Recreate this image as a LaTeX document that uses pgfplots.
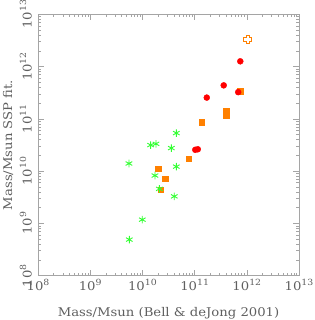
\documentclass[border=0pt]{standalone}
\usepackage{fontspec}
\setmainfont[FakeStretch=1.1]{DejaVu Serif}
\usepackage{pgfplots}
\pgfplotsset{compat=1.18}
\definecolor{sgreen}{RGB}{50,255,50}
\definecolor{sorange}{RGB}{255,128,0}
\definecolor{sred}{RGB}{255,0,0}
\definecolor{txt}{RGB}{95,95,95}
\definecolor{axc}{RGB}{165,165,165}
\pgfdeclareplotmark{hplus}{%
  \pgfmathsetlengthmacro{\pa}{\pgfplotmarksize}%
  \pgfmathsetlengthmacro{\pb}{0.4*\pgfplotmarksize}%
  \pgfpathmoveto{\pgfqpoint{-\pb}{\pa}}%
  \pgfpathlineto{\pgfqpoint{\pb}{\pa}}%
  \pgfpathlineto{\pgfqpoint{\pb}{\pb}}%
  \pgfpathlineto{\pgfqpoint{\pa}{\pb}}%
  \pgfpathlineto{\pgfqpoint{\pa}{-\pb}}%
  \pgfpathlineto{\pgfqpoint{\pb}{-\pb}}%
  \pgfpathlineto{\pgfqpoint{\pb}{-\pa}}%
  \pgfpathlineto{\pgfqpoint{-\pb}{-\pa}}%
  \pgfpathlineto{\pgfqpoint{-\pb}{-\pb}}%
  \pgfpathlineto{\pgfqpoint{-\pa}{-\pb}}%
  \pgfpathlineto{\pgfqpoint{-\pa}{\pb}}%
  \pgfpathlineto{\pgfqpoint{-\pb}{\pb}}%
  \pgfpathclose
  \pgfusepathqstroke}
\newcommand{\tl}[1]{10\raisebox{5.5pt}{\fontsize{8.5}{9}\selectfont #1}}
\begin{document}
\begin{tikzpicture}[x=1pt,y=1pt]
\path[use as bounding box] (-38,-44.3) rectangle (276,275.7);
\begin{axis}[at={(0,0)}, anchor=south west, scale only axis,
  width=261pt, height=261.4pt,
  xmode=log, ymode=log, xmin=1e8, xmax=1e13, ymin=1e8, ymax=1e13,
  xtick={1e8,1e9,1e10,1e11,1e12,1e13},
  xticklabels={\tl{8},\tl{9},\tl{10},\tl{11},\tl{12},\tl{13}},
  ytick={1e8,1e9,1e10,1e11,1e12,1e13},
  yticklabels={\tl{8},\tl{9},\tl{10},\tl{11},\tl{12},\tl{13}},
  tick align=inside, major tick length=6pt, minor tick length=3pt,
  axis line style={axc, line width=0.8pt},
  every tick/.style={axc, line width=0.6pt},
  tick label style={txt, font=\fontsize{12}{14}\selectfont},
  xticklabel style={anchor=base}, xticklabel shift=15pt,
  yticklabel style={rotate=90, anchor=base}, yticklabel shift=6.3pt,
  xlabel={Mass/Msun (Bell \& deJong 2001)},
  ylabel={Mass/Msun SSP fit.},
  every axis x label/.style={at={(axis description cs:0.5,-0.158)}, anchor=base, txt, font=\fontsize{12}{14}\selectfont},
  every axis y label/.style={at={(axis description cs:-0.0996,0.5)}, rotate=90, anchor=base, txt, font=\fontsize{12}{14}\selectfont},
  clip=false,
]
% orange squares
\addplot[only marks, mark=square*, mark size=2.7pt, color=sorange] coordinates {
 (1.99e10,1.10e10) (2.75e10,7.14e9) (2.24e10,4.40e9) (7.64e10,1.71e10)
 (1.36e11,8.57e10) (4.00e11,1.42e11) (4.00e11,1.14e11) (7.50e11,3.40e11)
};
% red circles
\addplot[only marks, mark=*, mark size=3pt, color=sred] coordinates {
 (7.50e11,1.26e12) (3.61e11,4.37e11) (1.71e11,2.55e11) (6.84e11,3.24e11)
 (1.03e11,2.56e10) (1.15e11,2.62e10)
};
% green asterisks
\addplot[only marks, mark=asterisk, mark size=3.8pt, color=sgreen, mark options={line width=0.9pt}] coordinates {
 (4.46e10,5.35e10) (1.44e10,3.15e10) (1.82e10,3.33e10) (3.58e10,2.76e10)
 (5.53e9,1.40e10) (4.46e10,1.22e10) (1.74e10,8.24e9) (2.11e10,4.58e9)
 (4.08e10,3.29e9) (9.95e9,1.18e9) (5.61e9,4.90e8)
};
% open cross
\addplot[only marks, mark=hplus, mark size=4pt, color=sorange, mark options={line width=0.8pt}] coordinates {
 (1.04e12,3.32e12)
};
\end{axis}
\end{tikzpicture}
\end{document}
